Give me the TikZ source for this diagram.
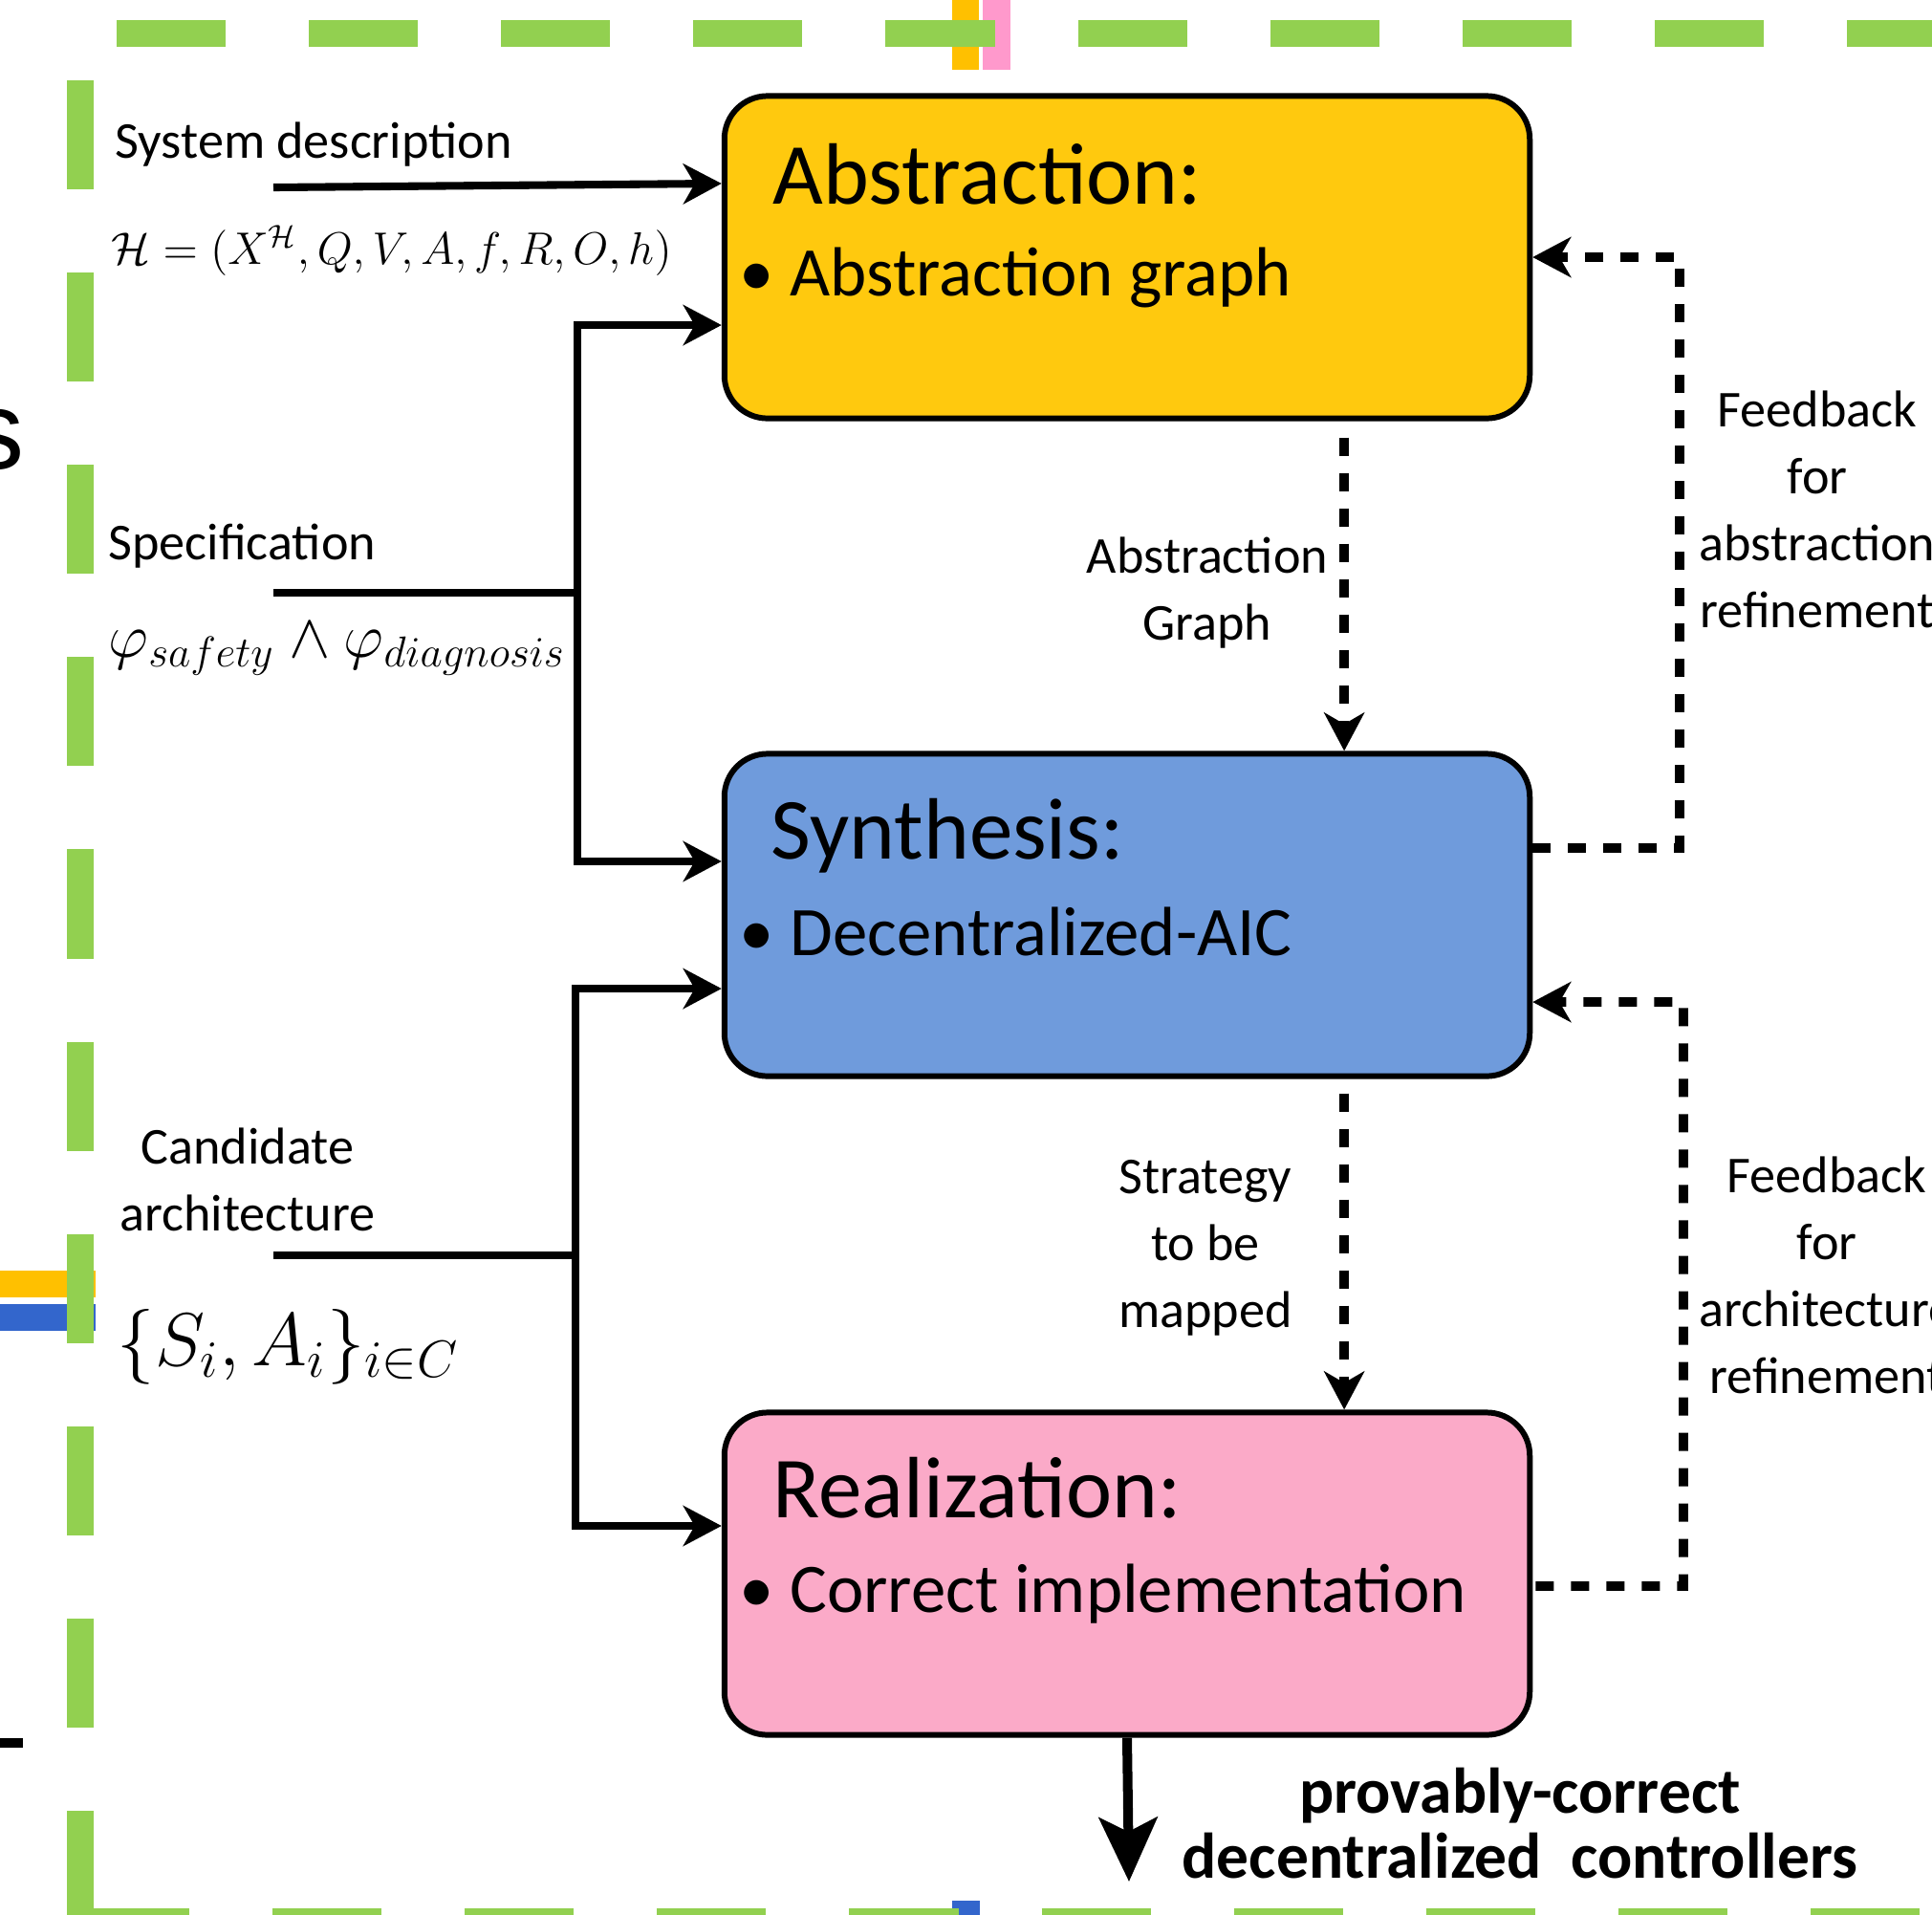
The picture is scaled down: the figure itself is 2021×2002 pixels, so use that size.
\documentclass[tikz,border=0pt]{standalone}
\usepackage{fontspec}
\setmainfont{Carlito}
\newfontfamily\fragfont{Liberation Sans}
\usetikzlibrary{arrows.meta,positioning}

\definecolor{absyellow}{HTML}{FFC90E}
\definecolor{synblue}{HTML}{6F9BDC}
\definecolor{realpink}{HTML}{FBAAC8}
\definecolor{framegreen}{HTML}{92D050}
\definecolor{barorange}{HTML}{FFC000}
\definecolor{barpink}{HTML}{FF99CC}
\definecolor{barblue}{HTML}{3366CC}

\tikzset{
  stage/.style={draw=black, line width=1.7pt, rounded corners=0.45cm,
    minimum width=8.42cm, minimum height=3.37cm},
  stagetitle/.style={anchor=base west, inner sep=0pt, font=\fontsize{25.9}{30}\selectfont},
  stageitem/.style={anchor=base west, inner sep=0pt, font=\fontsize{20.7}{25}\selectfont},
  inlabel/.style={inner sep=0pt, font=\fontsize{15.4}{20}\selectfont},
  sidelabel/.style={inner sep=0pt, align=center, font=\fontsize{15.4}{19.9}\selectfont},
  mathlabel/.style={anchor=west, inner sep=0pt},
  wire/.style={line width=2.3pt},
  feed/.style={wire, -{Stealth[length=0.4cm, width=0.42cm, inset=0.12cm]}},
  fbdash/.style={line width=2.8pt, dash pattern=on 0.19cm off 0.18cm,
    -{Stealth[length=0.4cm, width=0.42cm, inset=0.12cm]}},
  greenframe/.style={framegreen, line width=0.28cm, dash pattern=on 1.14cm off 0.87cm},
}

\begin{document}
\begin{tikzpicture}[x=0.01cm, y=-0.01cm]
\useasboundingbox (0,0) rectangle (2021,2002);

\fill[barorange] (996,0) rectangle (1024,73);
\fill[barpink] (1028,0) rectangle (1057,73);
\fill[barorange] (0,1329) rectangle (100,1357);
\fill[barblue] (0,1364) rectangle (100,1392);
\fill[barblue] (996,1988) rectangle (1025,2010);
\fill (0,1818) rectangle (24,1828);
\node[anchor=base east, inner sep=0pt, font=\fragfont\fontsize{33}{33}\selectfont] (frag) at (26,490) {s};

\draw[greenframe] (122,35) -- (2100,35);
\draw[greenframe] (84,84) -- (84,2100);
\draw[greenframe] (84,2010) -- (2100,2010);

\begin{scope}[every node/.style={stage}]
  \node[fill=absyellow] (abs)  at (1179,269)  {};
  \node[fill=synblue]   (syn)  at (1179,957)  {};
  \node[fill=realpink]  (real) at (1179,1646) {};
\end{scope}

\node[stagetitle] (abstitle)  at (808,213)  {Abstraction:};
\node[stageitem]  (absitem)   at (773,309)  {\textbullet\ Abstraction graph};
\node[stagetitle] (syntitle)  at (806,898)  {Synthesis:};
\node[stageitem]  (synitem)   at (773,999)  {\textbullet\ Decentralized-AIC};
\node[stagetitle] (realtitle) at (808,1587) {Realization:};
\node[stageitem]  (realitem)  at (773,1686) {\textbullet\ Correct implementation};

\node[inlabel, anchor=base west] (sysdesc) at (120,165) {System description};
\node[mathlabel, font=\fontsize{14.4}{18}\selectfont] (sysmodel) at (116,262)
  {\scalebox{0.942}{$\mathcal{H}=(X^{\mathcal{H}},Q,V,A,f,R,O,h)$}};
\node[inlabel, anchor=base west] (spec) at (113,585) {Specification};
\node[mathlabel, font=\fontsize{17.28}{21}\selectfont] (specformula) at (113,679)
  {\scalebox{1.07}{$\varphi_{safety}\wedge\varphi_{diagnosis}$}};
\node[sidelabel] (cand) at (259,1234) {Candidate\\architecture};
\node[mathlabel, font=\fontsize{20.74}{25}\selectfont] (candset) at (122,1409)
  {\scalebox{1.079}{$\{S_i,A_i\}_{i\in C}$}};

\coordinate (sysin)   at (286,196);
\coordinate (specin)  at (286,620);
\coordinate (specbus) at (604,620);
\coordinate (candin)  at (286,1313);
\coordinate (candbus) at (602,1313);

\draw[feed] (sysin) -- ([yshift=0.77cm]abs.west);
\draw[wire] (specin) -- (specbus);
\draw[feed] (specbus) |- ([yshift=-0.71cm]abs.west);
\draw[feed] (specbus) |- ([yshift=0.56cm]syn.west);
\draw[wire] (candin) -- (candbus);
\draw[feed] (candbus) |- ([yshift=-0.77cm]syn.west);
\draw[feed] (candbus) |- ([yshift=0.50cm]real.west);

\draw[fbdash] ([xshift=2.27cm, yshift=-0.17cm]abs.south) -- ([xshift=2.27cm]syn.north);
\draw[fbdash] ([xshift=2.27cm, yshift=-0.15cm]syn.south) -- ([xshift=2.27cm]real.north);
\node[sidelabel] (graphlbl) at (1263,620)  {Abstraction\\Graph};
\node[sidelabel] (stratlbl) at (1261,1305) {Strategy\\to be\\mapped};

\coordinate (fbabsturn)  at (1757,269);
\coordinate (fbarchturn) at (1761,1048);
\draw[fbdash] ([yshift=0.70cm]syn.east) -| (fbabsturn) -- (abs.east);
\draw[fbdash] ([xshift=0.03cm, yshift=-0.13cm]real.east) -| (fbarchturn) -- ([yshift=-0.91cm]syn.east);
\node[sidelabel] (fbabslbl)  at (1901,533)  {Feedback\\for\\abstraction\\refinement};
\node[sidelabel] (fbarchlbl) at (1911,1334) {Feedback\\for\\architecture\\refinement};

\coordinate (outend) at (1181,1968);
\draw[line width=2.85pt, -{Stealth[length=0.67cm, width=0.61cm, inset=0.15cm]}] (real.south) -- (outend);
\node[inner sep=0pt, align=center, font=\bfseries\fontsize{19.2}{19.4}\selectfont] (result) at (1590,1907) {provably-correct\\decentralized\ \ controllers};

\end{tikzpicture}
\end{document}
